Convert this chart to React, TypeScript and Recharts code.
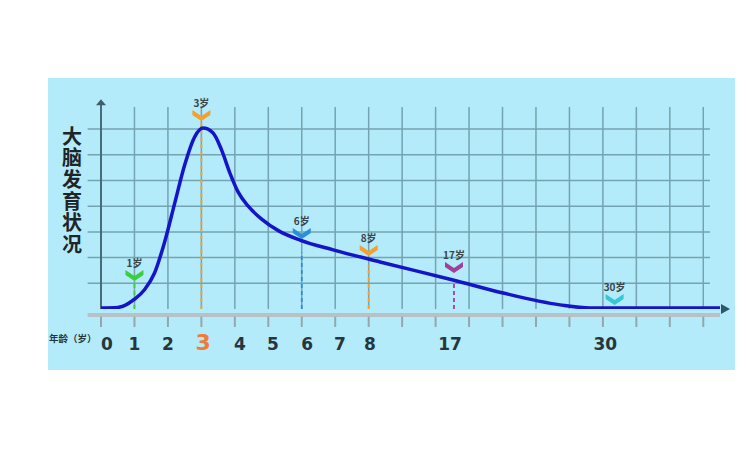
import { ComposedChart, Line, XAxis, YAxis, ReferenceLine, ReferenceDot, Customized } from 'recharts'

// brain development curve, x in grid columns, y in grid rows
const CURVE_X = [0, 0.5, 0.8, 1.0, 1.3, 1.6, 1.9, 2.2, 2.5, 2.8, 3.05, 3.35, 3.6, 3.85, 4.1, 4.4, 4.8, 5.3, 5.95, 6.94, 8.34, 10.52, 12.02, 13.72, 14.62, 18.5]
const CURVE_Y = [0.04, 0.06, 0.2, 0.38, 0.75, 1.4, 2.6, 4.1, 5.6, 6.7, 7.04, 6.85, 6.2, 5.3, 4.55, 4.0, 3.5, 3.05, 2.68, 2.3, 1.83, 1.13, 0.62, 0.16, 0.04, 0.04]

// age tick labels
const LABEL_POS = [0.18, 1, 2, 3.05, 4.15, 5.14, 6.16, 7.14, 8.04, 10.43, 15.07]
const LABEL_TEXT = ['0', '1', '2', '3', '4', '5', '6', '7', '8', '17', '30']

// grid
const GRID_COLS = [1, 2, 3, 4, 5, 6, 7, 8, 9, 10, 11, 12, 13, 14, 15, 16, 17, 18]
const GRID_ROWS = [1, 2, 3, 4, 5, 6, 7]
const TICK_COLS = [0, 1, 2, 3, 4, 5, 6, 7, 8, 9, 10, 11, 12, 13, 14, 15, 16, 17, 18]

// age markers
const MARK_X = [1, 3, 6, 8, 10.55, 15.35]
const MARK_Y = [1.32, 7.55, 2.96, 2.3, 1.63, 0.39]
const MARK_TEXT = ['1岁', '3岁', '6岁', '8岁', '17岁', '30岁']
const MARK_COLOR = ['#3ccf3c', '#f5a02a', '#2a8fd6', '#f5a02a', '#a0409a', '#35c8d4']
const DASH_TOP = [1.05, 7.3, 2.2, 1.7, 1.05, 0]

const Y_TOP = 7.86
const X_MAX = 18.5
const GRID_COLOR = '#74a3b1'
const CJK = "'Noto Sans CJK SC', 'DejaVu Sans', sans-serif"

const data = CURVE_X.map((x, i) => ({ x, y: CURVE_Y[i] }))

function AgeTick({ x, y, index }: any) {
  const text = LABEL_TEXT[index]
  const isThree = text === '3'
  return (
    <text
      x={x}
      y={y + 39}
      textAnchor="middle"
      fontFamily="'DejaVu Sans', sans-serif"
      fontWeight="bold"
      fontSize={isThree ? 22 : 17}
      fill={isThree ? '#f07a3a' : '#26363c'}
    >
      {text}
    </text>
  )
}

function Marker(i: number) {
  return ({ cx, cy }: any) => (
    <g>
      <path
        d={`M${cx - 9} ${cy - 5} L${cx} ${cy + 1} L${cx + 9} ${cy - 5} L${cx + 9} ${cy} L${cx} ${cy + 6} L${cx - 9} ${cy} Z`}
        fill={MARK_COLOR[i]}
      />
      <text x={cx} y={cy - 8} textAnchor="middle" fontSize={10} fontWeight="bold" fill="#3a4448" fontFamily={CJK}>
        {MARK_TEXT[i]}
      </text>
    </g>
  )
}

const upArrow = ({ cx, cy }: any) => (
  <path d={`M${cx - 5} ${cy + 2} L${cx} ${cy - 4} L${cx + 5} ${cy + 2} Z`} fill="#3f5e6a" />
)
const rightArrow = ({ cx, cy }: any) => (
  <path d={`M${cx + 1} ${cy - 5} L${cx + 10} ${cy} L${cx + 1} ${cy + 5} Z`} fill="#2d5866" />
)

function Titles() {
  return (
    <g fontFamily={CJK} fontWeight="bold">
      <text x={72} y={126} writingMode="vertical-rl" letterSpacing={1.7} fontSize={20} fill="#1e2528">
        大脑发育状况
      </text>
      <text x={49} y={342} fontSize={9.5} fill="#26363c">
        年龄（岁）
      </text>
    </g>
  )
}

export default function App() {
  return (
    <div style={{ position: 'absolute', left: 0, top: 0, width: 750, height: 450, background: '#fff' }}>
      <div style={{ position: 'absolute', left: 48, top: 78, width: 687, height: 292, background: '#b4ebfb' }} />
      <div style={{ position: 'absolute', left: 0, top: 0 }}>
        <ComposedChart width={750} height={450} data={data} margin={{ top: 107, right: 30, bottom: 101, left: 101 }}>
          <XAxis
            dataKey="x"
            type="number"
            domain={[0, X_MAX]}
            ticks={LABEL_POS}
            interval={0}
            tick={<AgeTick />}
            tickLine={false}
            axisLine={false}
            tickSize={0}
            height={40}
            allowDataOverflow
          />
          <YAxis type="number" domain={[0, Y_TOP]} hide allowDataOverflow />

          {GRID_ROWS.map(r => (
            <ReferenceLine
              key={'r' + r}
              segment={[{ x: -0.4, y: r }, { x: 18.2, y: r }]}
              stroke={GRID_COLOR}
              strokeWidth={1.5}
              ifOverflow="visible"
            />
          ))}
          {GRID_COLS.map(c => (
            <ReferenceLine key={'c' + c} x={c} stroke={GRID_COLOR} strokeWidth={1.5} />
          ))}

          {/* gray ground bar and tick marks */}
          <ReferenceLine
            segment={[{ x: -0.4, y: -0.23 }, { x: X_MAX, y: -0.23 }]}
            stroke="#b6c2c6"
            strokeWidth={4}
            ifOverflow="visible"
          />
          {TICK_COLS.map(c => (
            <ReferenceLine
              key={'t' + c}
              segment={[{ x: c, y: -0.3 }, { x: c, y: -0.7 }]}
              stroke="#95a6ac"
              strokeWidth={2}
              ifOverflow="visible"
            />
          ))}

          {/* y axis */}
          <ReferenceLine segment={[{ x: 0, y: 0 }, { x: 0, y: Y_TOP + 0.1 }]} stroke="#4a6b78" strokeWidth={2} ifOverflow="visible" />
          <ReferenceDot x={0} y={Y_TOP + 0.15} r={0} shape={upArrow} ifOverflow="visible" />

          {MARK_X.map((mx, i) =>
            DASH_TOP[i] > 0 ? (
              <ReferenceLine
                key={'d' + i}
                segment={[{ x: mx, y: 0 }, { x: mx, y: DASH_TOP[i] }]}
                stroke={MARK_COLOR[i]}
                strokeWidth={1.8}
                strokeDasharray="4 3"
              />
            ) : null
          )}

          <Line
            type="monotone"
            dataKey="y"
            stroke="#1515c8"
            strokeWidth={3.5}
            dot={false}
            activeDot={false}
            isAnimationActive={false}
          />
          <ReferenceDot x={X_MAX} y={0.0} r={0} shape={rightArrow} ifOverflow="visible" />

          {MARK_X.map((mx, i) => (
            <ReferenceDot key={'m' + i} x={mx} y={MARK_Y[i]} r={0} shape={Marker(i)} ifOverflow="visible" />
          ))}

          <Customized component={<Titles />} />
        </ComposedChart>
      </div>
    </div>
  )
}
